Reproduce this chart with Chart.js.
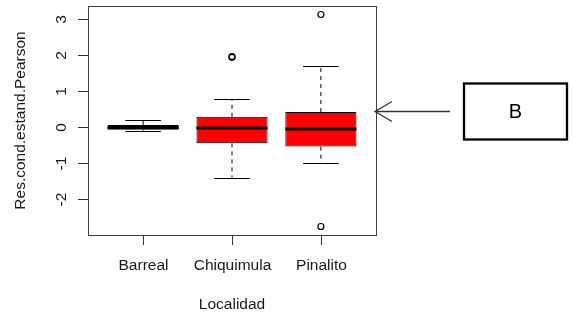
<!DOCTYPE html>
<html>
<head>
<meta charset="utf-8">
<script src="https://cdn.jsdelivr.net/npm/chart.js@4.4.1/dist/chart.umd.min.js"></script>
<style>
  html, body { margin: 0; padding: 0; background: #fff; }
  #wrap { width: 572px; height: 323px; }
</style>
</head>
<body>
<div id="wrap"><canvas id="boxChart" width="572" height="323"></canvas></div>
<script>
const categories = ['Barreal', 'Chiquimula', 'Pinalito'];
const lowerWhisker = [-0.10, -1.40, -0.99];
const q1 = [-0.07, -0.45, -0.54];
const median = [-0.01, -0.02, -0.05];
const q3 = [0.06, 0.29, 0.42];
const upperWhisker = [0.19, 0.77, 1.69];
const outliers = [[], [1.94, 1.96], [3.13, -2.76]];
const boxColors = ['#ff0000', '#ff0000', '#ff0000'];
const yTicks = [-2, -1, 0, 1, 2, 3];
const xTitle = 'Localidad';
const yTitle = 'Res.cond.estand.Pearson';
const noteLabel = 'B';
const noteTarget = 2; // Pinalito, arrow points at its upper hinge

// R style axis limits: data range widened by 4% on each side
const allVals = lowerWhisker.concat(upperWhisker, outliers.flat());
const yLo = Math.min(...allVals), yHi = Math.max(...allVals);
const yPad = (yHi - yLo) * 0.04;
const xPad = categories.length * 0.04;

const FONT = '"Liberation Sans", Arial, sans-serif';
const TEXT = '#1a1a1a';

const boxPlotExtras = {
    id: 'boxPlotExtras',
    afterDatasetsDraw(chart) {
        const ctx = chart.ctx;
        const x = chart.scales.x, y = chart.scales.y;
        const bars = chart.getDatasetMeta(0).data;
        ctx.save();
        ctx.strokeStyle = '#000';
        categories.forEach((c, i) => {
            const cx = x.getPixelForValue(i + 1);
            const half = bars[i].width / 2;
            // dashed whiskers
            ctx.lineWidth = 1;
            ctx.setLineDash([4, 4]);
            ctx.beginPath();
            ctx.moveTo(cx, y.getPixelForValue(q3[i]));
            ctx.lineTo(cx, y.getPixelForValue(upperWhisker[i]));
            ctx.moveTo(cx, y.getPixelForValue(q1[i]));
            ctx.lineTo(cx, y.getPixelForValue(lowerWhisker[i]));
            ctx.stroke();
            ctx.setLineDash([]);
            // caps
            ctx.beginPath();
            [upperWhisker[i], lowerWhisker[i]].forEach(v => {
                const py = Math.round(y.getPixelForValue(v)) + 0.5;
                ctx.moveTo(cx - half / 2, py);
                ctx.lineTo(cx + half / 2, py);
            });
            ctx.stroke();
            // median
            ctx.lineWidth = 3;
            ctx.beginPath();
            const my = y.getPixelForValue(median[i]);
            ctx.moveTo(cx - half, my);
            ctx.lineTo(cx + half, my);
            ctx.stroke();
        });
        ctx.restore();
    },
    afterDraw(chart) {
        const ctx = chart.ctx;
        const a = chart.chartArea;
        const x = chart.scales.x, y = chart.scales.y;
        ctx.save();
        // frame
        ctx.strokeStyle = '#404040';
        ctx.lineWidth = 1;
        ctx.strokeRect(a.left + 0.5, a.top + 0.5, a.right - a.left, a.bottom - a.top);
        // y axis ticks + rotated labels
        ctx.strokeStyle = '#303030';
        ctx.fillStyle = TEXT;
        ctx.font = '15.5px ' + FONT;
        ctx.textAlign = 'center';
        ctx.textBaseline = 'middle';
        yTicks.forEach(t => {
            const py = Math.round(y.getPixelForValue(t)) + 0.5;
            ctx.beginPath();
            ctx.moveTo(a.left - 10, py);
            ctx.lineTo(a.left, py);
            ctx.stroke();
            ctx.save();
            ctx.translate(a.left - 26, py);
            ctx.rotate(-Math.PI / 2);
            ctx.fillText(String(t), 0, 0);
            ctx.restore();
        });
        // x axis ticks + labels
        categories.forEach((c, i) => {
            const px = Math.round(x.getPixelForValue(i + 1)) + 0.5;
            ctx.beginPath();
            ctx.moveTo(px, a.bottom);
            ctx.lineTo(px, a.bottom + 10);
            ctx.stroke();
            ctx.fillText(c, px, a.bottom + 31);
        });
        // axis titles
        ctx.fillText(xTitle, (a.left + a.right) / 2, a.bottom + 70);
        ctx.save();
        ctx.translate(21, (a.top + a.bottom) / 2);
        ctx.rotate(-Math.PI / 2);
        ctx.fillText(yTitle, 0, 0);
        ctx.restore();
        // arrow pointing at the Pinalito box
        const ay = Math.round(y.getPixelForValue(q3[noteTarget])) - 0.5;
        const tip = a.right - 1;
        ctx.strokeStyle = '#333';
        ctx.lineWidth = 1.3;
        ctx.beginPath();
        ctx.moveTo(tip + 75, ay);
        ctx.lineTo(tip, ay);
        ctx.moveTo(tip + 17, ay - 10);
        ctx.lineTo(tip, ay);
        ctx.lineTo(tip + 17, ay + 10);
        ctx.stroke();
        // note box
        ctx.strokeStyle = '#000';
        ctx.lineWidth = 2.3;
        ctx.strokeRect(464, ay - 28, 103, 56);
        ctx.font = '20px ' + FONT;
        ctx.fillStyle = '#000';
        ctx.fillText(noteLabel, 515.5, ay + 1);
        ctx.restore();
    }
};

new Chart(document.getElementById('boxChart').getContext('2d'), {
    type: 'bar',
    data: {
        datasets: [{
            type: 'bar',
            data: categories.map((c, i) => ({ x: i + 1, y: [q1[i], q3[i]] })),
            backgroundColor: boxColors,
            borderColor: '#000',
            borderWidth: 1,
            borderSkipped: false,
            categoryPercentage: 0.8,
            barPercentage: 1.0
        }, {
            type: 'scatter',
            data: outliers.flatMap((vals, i) => vals.map(v => ({ x: i + 1, y: v }))),
            pointRadius: 3,
            pointBorderWidth: 1.2,
            pointBorderColor: '#000',
            pointBackgroundColor: 'rgba(0,0,0,0)'
        }]
    },
    options: {
        responsive: false,
        animation: false,
        layout: { padding: { left: 88, right: 196, top: 6, bottom: 88 } },
        plugins: { legend: { display: false }, tooltip: { enabled: false } },
        scales: {
            x: {
                type: 'linear', display: false, offset: false,
                min: 0.5 - xPad, max: categories.length + 0.5 + xPad,
                afterBuildTicks: s => { s.ticks = categories.map((c, i) => ({ value: i + 1 })); }
            },
            y: { type: 'linear', display: false, min: yLo - yPad, max: yHi + yPad }
        }
    },
    plugins: [boxPlotExtras]
});
</script>
</body>
</html>
